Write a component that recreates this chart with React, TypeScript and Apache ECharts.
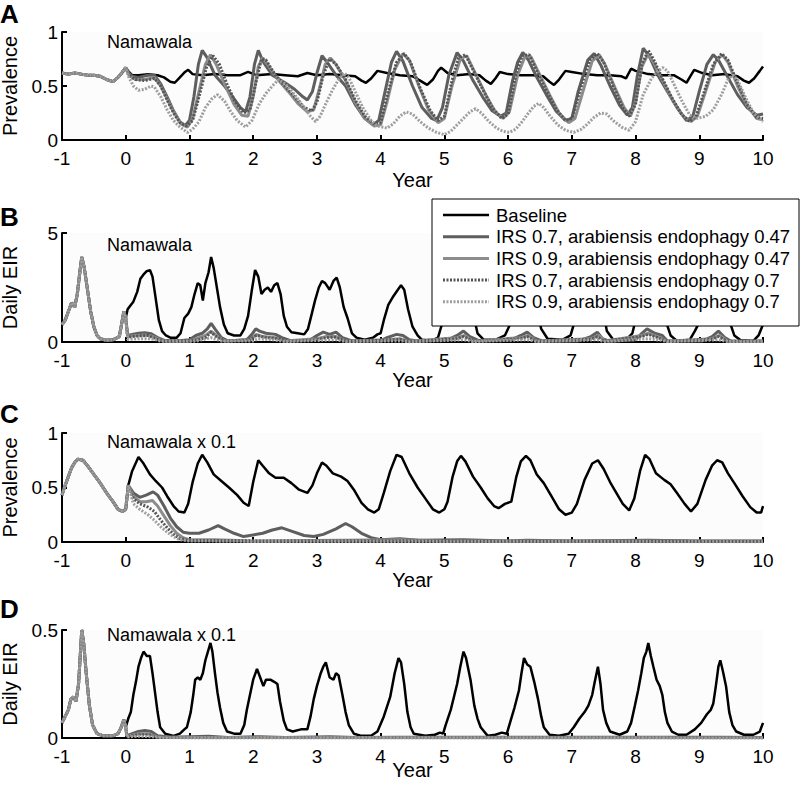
import React, { useEffect, useRef } from "react";
import * as echarts from "echarts";

const FONT = '"Liberation Sans", Arial, Helvetica, sans-serif';

const seriesNames = [
  "Baseline",
  "IRS 0.7, arabiensis endophagy 0.47",
  "IRS 0.9, arabiensis endophagy 0.47",
  "IRS 0.7, arabiensis endophagy 0.7",
  "IRS 0.9, arabiensis endophagy 0.7",
];
const xTicks = [-1, 0, 1, 2, 3, 4, 5, 6, 7, 8, 9, 10];

// ---------- Panel A : prevalence, Namawala ----------
const preA = [[-1,0.62],[-0.9,0.61],[-0.8,0.62],[-0.7,0.61],[-0.6,0.6],[-0.5,0.6],[-0.4,0.59],[-0.3,0.56],[-0.2,0.54],[-0.12,0.58],[-0.05,0.63],[0,0.67]];
const baseA = [[0.05,0.63],[0.1,0.6],[0.2,0.6],[0.35,0.61],[0.5,0.6],[0.6,0.58],[0.7,0.54],[0.77,0.53],[0.85,0.58],[0.93,0.63],[0.98,0.65],[1.05,0.61],[1.2,0.6],[1.4,0.61],[1.6,0.6],[1.8,0.6],[1.92,0.63],[2.05,0.6],[2.3,0.61],[2.5,0.6],[2.7,0.59],[2.85,0.62],[3.0,0.6],[3.2,0.61],[3.4,0.6],[3.6,0.59],[3.7,0.55],[3.77,0.53],[3.85,0.57],[3.95,0.64],[4.1,0.62],[4.3,0.6],[4.5,0.59],[4.62,0.55],[4.73,0.51],[4.82,0.56],[4.9,0.64],[4.95,0.67],[5.05,0.62],[5.2,0.6],[5.4,0.61],[5.55,0.6],[5.65,0.55],[5.73,0.52],[5.8,0.57],[5.87,0.63],[6.0,0.61],[6.2,0.6],[6.4,0.6],[6.55,0.59],[6.65,0.54],[6.72,0.51],[6.8,0.56],[6.9,0.64],[7.0,0.63],[7.2,0.61],[7.4,0.6],[7.6,0.6],[7.78,0.59],[7.85,0.57],[7.93,0.66],[8.0,0.64],[8.2,0.61],[8.4,0.6],[8.6,0.6],[8.72,0.56],[8.8,0.53],[8.87,0.6],[8.92,0.65],[9.05,0.62],[9.2,0.6],[9.4,0.61],[9.6,0.59],[9.7,0.55],[9.78,0.53],[9.86,0.57],[9.95,0.64],[10,0.68]];
const s1A = [[0.05,0.62],[0.1,0.59],[0.2,0.58],[0.35,0.6],[0.45,0.6],[0.55,0.52],[0.65,0.4],[0.75,0.27],[0.85,0.17],[0.93,0.13],[1.0,0.18],[1.07,0.4],[1.14,0.7],[1.2,0.83],[1.28,0.76],[1.4,0.6],[1.55,0.5],[1.7,0.38],[1.8,0.3],[1.88,0.26],[1.95,0.4],[2.02,0.7],[2.08,0.83],[2.16,0.72],[2.3,0.6],[2.5,0.53],[2.65,0.47],[2.78,0.4],[2.85,0.37],[2.93,0.45],[3.0,0.62],[3.08,0.78],[3.16,0.72],[3.3,0.6],[3.45,0.5],[3.6,0.33],[3.75,0.2],[3.88,0.14],[3.97,0.18],[4.07,0.45],[4.17,0.72],[4.25,0.82],[4.35,0.73],[4.5,0.5],[4.65,0.3],[4.8,0.2],[4.88,0.18],[4.97,0.3],[5.07,0.6],[5.2,0.81],[5.3,0.73],[5.45,0.55],[5.6,0.4],[5.75,0.27],[5.88,0.22],[5.97,0.25],[6.07,0.55],[6.15,0.72],[6.23,0.81],[6.32,0.74],[6.45,0.58],[6.6,0.42],[6.75,0.27],[6.9,0.18],[7.0,0.2],[7.1,0.45],[7.25,0.74],[7.35,0.8],[7.45,0.7],[7.6,0.5],[7.75,0.32],[7.87,0.23],[7.95,0.3],[8.03,0.6],[8.12,0.85],[8.22,0.77],[8.35,0.6],[8.5,0.45],[8.65,0.3],[8.8,0.18],[8.9,0.22],[9.0,0.45],[9.12,0.7],[9.22,0.79],[9.3,0.74],[9.45,0.58],[9.6,0.42],[9.75,0.3],[9.9,0.23],[10,0.24]];
const s2A = [[0.05,0.6],[0.15,0.56],[0.3,0.56],[0.45,0.58],[0.55,0.5],[0.65,0.38],[0.75,0.26],[0.87,0.15],[0.97,0.12],[1.05,0.2],[1.15,0.45],[1.25,0.7],[1.33,0.79],[1.42,0.7],[1.55,0.52],[1.7,0.33],[1.82,0.23],[1.92,0.22],[2.0,0.4],[2.08,0.68],[2.15,0.76],[2.25,0.68],[2.4,0.55],[2.55,0.45],[2.7,0.34],[2.85,0.26],[2.95,0.28],[3.05,0.5],[3.13,0.7],[3.21,0.76],[3.3,0.7],[3.45,0.55],[3.6,0.35],[3.75,0.2],[3.9,0.13],[4.0,0.14],[4.1,0.35],[4.22,0.65],[4.35,0.8],[4.45,0.74],[4.6,0.5],[4.75,0.28],[4.9,0.16],[5.0,0.2],[5.12,0.5],[5.25,0.75],[5.35,0.78],[5.5,0.6],[5.65,0.42],[5.8,0.26],[5.92,0.2],[6.02,0.26],[6.15,0.6],[6.27,0.78],[6.36,0.77],[6.5,0.6],[6.65,0.42],[6.8,0.25],[6.95,0.16],[7.05,0.2],[7.2,0.5],[7.32,0.73],[7.43,0.79],[7.52,0.7],[7.68,0.48],[7.82,0.3],[7.92,0.22],[8.0,0.35],[8.1,0.68],[8.2,0.8],[8.3,0.7],[8.45,0.52],[8.6,0.35],[8.75,0.22],[8.87,0.17],[8.97,0.22],[9.1,0.45],[9.25,0.72],[9.36,0.79],[9.45,0.72],[9.6,0.5],[9.75,0.32],[9.9,0.2],[10,0.19]];
const s3A = [[0.05,0.6],[0.15,0.56],[0.3,0.55],[0.45,0.57],[0.55,0.5],[0.65,0.37],[0.75,0.25],[0.85,0.16],[0.95,0.13],[1.05,0.18],[1.15,0.4],[1.27,0.68],[1.37,0.78],[1.47,0.7],[1.6,0.5],[1.72,0.35],[1.85,0.25],[1.95,0.28],[2.05,0.55],[2.13,0.75],[2.2,0.74],[2.35,0.6],[2.5,0.5],[2.65,0.4],[2.8,0.3],[2.92,0.27],[3.0,0.35],[3.1,0.6],[3.2,0.75],[3.3,0.7],[3.45,0.56],[3.6,0.37],[3.75,0.22],[3.9,0.15],[4.0,0.16],[4.12,0.45],[4.25,0.72],[4.37,0.8],[4.47,0.72],[4.62,0.48],[4.78,0.27],[4.9,0.18],[5.0,0.22],[5.12,0.55],[5.22,0.76],[5.33,0.79],[5.45,0.65],[5.6,0.47],[5.75,0.3],[5.9,0.2],[6.0,0.24],[6.12,0.6],[6.22,0.78],[6.33,0.79],[6.45,0.64],[6.6,0.46],[6.75,0.29],[6.9,0.18],[7.0,0.2],[7.15,0.5],[7.28,0.74],[7.4,0.8],[7.5,0.72],[7.65,0.5],[7.8,0.3],[7.9,0.22],[8.0,0.33],[8.1,0.7],[8.2,0.83],[8.28,0.75],[8.42,0.57],[8.58,0.38],[8.72,0.24],[8.85,0.17],[8.95,0.22],[9.08,0.45],[9.22,0.7],[9.35,0.8],[9.45,0.74],[9.6,0.53],[9.75,0.33],[9.9,0.21],[10,0.2]];
const s4A = [[0.05,0.58],[0.12,0.5],[0.2,0.46],[0.3,0.47],[0.4,0.5],[0.45,0.49],[0.55,0.4],[0.65,0.28],[0.75,0.18],[0.85,0.12],[0.97,0.07],[1.05,0.1],[1.15,0.17],[1.25,0.3],[1.35,0.38],[1.44,0.42],[1.55,0.36],[1.65,0.26],[1.75,0.18],[1.88,0.12],[1.98,0.18],[2.1,0.34],[2.2,0.43],[2.3,0.5],[2.4,0.56],[2.5,0.52],[2.65,0.42],[2.8,0.3],[2.9,0.22],[2.98,0.17],[3.05,0.22],[3.15,0.35],[3.25,0.47],[3.35,0.57],[3.43,0.62],[3.5,0.58],[3.6,0.45],[3.72,0.3],[3.85,0.18],[3.95,0.13],[4.1,0.11],[4.2,0.15],[4.3,0.22],[4.4,0.26],[4.5,0.24],[4.62,0.17],[4.75,0.11],[4.88,0.07],[5.0,0.05],[5.1,0.08],[5.2,0.14],[5.3,0.2],[5.4,0.26],[5.49,0.29],[5.58,0.25],[5.7,0.17],[5.82,0.11],[5.92,0.08],[6.02,0.07],[6.12,0.1],[6.22,0.17],[6.32,0.25],[6.4,0.31],[6.48,0.34],[6.56,0.3],[6.66,0.22],[6.78,0.14],[6.9,0.09],[7.03,0.07],[7.15,0.1],[7.25,0.15],[7.35,0.21],[7.45,0.25],[7.55,0.24],[7.65,0.18],[7.78,0.12],[7.9,0.09],[8.0,0.17],[8.12,0.42],[8.25,0.57],[8.35,0.64],[8.43,0.67],[8.5,0.64],[8.6,0.52],[8.72,0.37],[8.85,0.23],[8.97,0.2],[9.1,0.22],[9.22,0.28],[9.35,0.42],[9.45,0.56],[9.52,0.6],[9.6,0.56],[9.72,0.4],[9.85,0.25],[10,0.17]];

// ---------- Panel B : daily EIR, Namawala ----------
const preB = [[-1,0.8],[-0.95,1.0],[-0.9,1.4],[-0.85,1.8],[-0.8,1.6],[-0.76,2.2],[-0.72,3.2],[-0.69,3.9],[-0.65,3.4],[-0.6,2.4],[-0.55,1.4],[-0.5,0.7],[-0.45,0.3],[-0.4,0.15],[-0.3,0.08],[-0.2,0.1],[-0.1,0.25],[-0.06,0.9],[-0.03,1.4],[0,1.1]];
const baseB = [[0.03,1.5],[0.08,1.7],[0.12,1.85],[0.18,2.3],[0.23,2.9],[0.28,3.1],[0.33,3.25],[0.38,3.3],[0.42,3.0],[0.47,2.0],[0.52,1.0],[0.57,0.5],[0.63,0.3],[0.7,0.2],[0.8,0.2],[0.86,0.4],[0.92,1.1],[0.98,1.3],[1.03,1.6],[1.08,2.2],[1.13,2.7],[1.17,2.6],[1.21,1.9],[1.25,2.7],[1.3,3.2],[1.34,3.9],[1.38,3.4],[1.43,2.5],[1.48,1.6],[1.54,0.8],[1.6,0.4],[1.7,0.3],[1.8,0.3],[1.86,0.6],[1.92,1.2],[1.98,2.4],[2.03,3.3],[2.08,3.0],[2.13,2.2],[2.18,2.4],[2.23,2.5],[2.28,2.3],[2.33,2.6],[2.38,2.7],[2.43,2.2],[2.48,1.2],[2.53,0.7],[2.6,0.45],[2.7,0.4],[2.8,0.35],[2.86,0.6],[2.92,1.3],[2.97,1.9],[3.03,2.5],[3.08,2.8],[3.13,2.7],[3.2,2.4],[3.26,2.8],[3.31,2.95],[3.36,2.5],[3.42,1.6],[3.48,1.1],[3.55,0.4],[3.62,0.2],[3.75,0.1],[3.88,0.2],[3.95,0.35],[4.0,0.4],[4.05,1.0],[4.12,1.7],[4.2,2.1],[4.27,2.4],[4.32,2.6],[4.37,2.4],[4.43,1.5],[4.5,0.7],[4.58,0.3],[4.65,0.1],[4.8,0.05],[4.9,0.2],[4.95,0.7],[5.03,1.1],[5.1,1.4],[5.2,2.2],[5.3,3.2],[5.38,2.6],[5.46,1.2],[5.52,0.4],[5.62,0.1],[5.8,0.1],[5.95,0.3],[6.03,0.8],[6.12,1.7],[6.25,3.0],[6.35,2.7],[6.45,1.5],[6.52,0.6],[6.62,0.15],[6.85,0.1],[6.98,0.3],[7.03,0.8],[7.15,1.1],[7.25,1.4],[7.35,1.9],[7.42,2.6],[7.5,1.3],[7.55,0.5],[7.65,0.1],[7.85,0.1],[7.95,0.4],[8.0,1.0],[8.07,1.9],[8.13,2.9],[8.2,3.5],[8.3,2.8],[8.4,2.2],[8.47,1.0],[8.55,0.3],[8.65,0.05],[8.85,0.1],[8.93,0.5],[9.0,0.9],[9.1,1.2],[9.22,1.7],[9.32,2.9],[9.42,1.9],[9.48,0.9],[9.55,0.3],[9.65,0.08],[9.85,0.05],[9.93,0.3],[10,0.8]];
const s1B = [[0.03,0.3],[0.1,0.35],[0.2,0.4],[0.3,0.42],[0.4,0.38],[0.5,0.2],[0.6,0.08],[0.8,0.05],[1.0,0.1],[1.1,0.3],[1.2,0.4],[1.28,0.6],[1.34,0.85],[1.4,0.6],[1.5,0.2],[1.6,0.05],[1.9,0.1],[1.98,0.35],[2.04,0.6],[2.1,0.5],[2.2,0.4],[2.35,0.35],[2.45,0.2],[2.6,0.05],[2.9,0.1],[3.0,0.3],[3.1,0.45],[3.2,0.35],[3.3,0.45],[3.4,0.2],[3.55,0.05],[4.0,0.05],[4.1,0.2],[4.25,0.35],[4.35,0.3],[4.45,0.1],[4.6,0.03],[5.05,0.1],[5.2,0.3],[5.3,0.5],[5.4,0.25],[5.55,0.05],[6.05,0.1],[6.2,0.3],[6.3,0.45],[6.4,0.2],[6.55,0.03],[7.1,0.05],[7.3,0.25],[7.4,0.45],[7.48,0.15],[7.6,0.03],[8.0,0.1],[8.1,0.4],[8.18,0.6],[8.3,0.4],[8.42,0.3],[8.5,0.05],[9.05,0.05],[9.2,0.25],[9.3,0.5],[9.4,0.2],[9.5,0.03],[10,0.05]];
const s2B = [[0.03,0.25],[0.15,0.3],[0.3,0.32],[0.4,0.28],[0.5,0.15],[0.6,0.05],[1.0,0.05],[1.15,0.2],[1.25,0.3],[1.34,0.5],[1.42,0.3],[1.55,0.05],[1.95,0.1],[2.05,0.35],[2.15,0.25],[2.35,0.2],[2.5,0.05],[3.0,0.15],[3.15,0.25],[3.3,0.25],[3.45,0.05],[4.1,0.1],[4.3,0.15],[4.45,0.03],[5.2,0.2],[5.32,0.3],[5.45,0.05],[6.2,0.2],[6.32,0.3],[6.45,0.05],[7.3,0.15],[7.42,0.3],[7.52,0.05],[8.1,0.3],[8.2,0.4],[8.35,0.25],[8.5,0.03],[9.2,0.15],[9.32,0.3],[9.45,0.03],[10,0.03]];
const s3B = [[0.03,0.22],[0.2,0.28],[0.35,0.3],[0.5,0.12],[0.6,0.04],[1.1,0.08],[1.25,0.2],[1.34,0.45],[1.42,0.25],[1.55,0.04],[1.95,0.1],[2.05,0.3],[2.2,0.2],[2.4,0.15],[2.55,0.03],[3.0,0.1],[3.15,0.2],[3.3,0.22],[3.45,0.04],[4.1,0.08],[4.3,0.12],[4.45,0.02],[5.2,0.15],[5.3,0.25],[5.45,0.04],[6.2,0.15],[6.3,0.25],[6.45,0.04],[7.3,0.12],[7.4,0.25],[7.5,0.04],[8.1,0.25],[8.2,0.35],[8.35,0.2],[8.5,0.03],[9.2,0.12],[9.3,0.25],[9.45,0.03],[10,0.03]];
const s4B = [[0.03,0.12],[0.2,0.15],[0.4,0.15],[0.55,0.04],[1.1,0.04],[1.34,0.2],[1.5,0.04],[2.0,0.05],[2.08,0.15],[2.3,0.1],[2.5,0.02],[3.1,0.08],[3.3,0.1],[3.45,0.02],[4.3,0.05],[4.45,0.01],[5.3,0.1],[5.45,0.02],[6.3,0.1],[6.45,0.02],[7.4,0.1],[7.5,0.02],[8.2,0.15],[8.4,0.08],[8.5,0.02],[9.3,0.1],[9.45,0.02],[10,0.02]];

// ---------- Panel C : prevalence, Namawala x 0.1 ----------
const preC = [[-1,0.43],[-0.95,0.52],[-0.9,0.6],[-0.85,0.68],[-0.8,0.73],[-0.75,0.76],[-0.67,0.75],[-0.6,0.7],[-0.5,0.62],[-0.4,0.54],[-0.3,0.45],[-0.2,0.37],[-0.12,0.3],[-0.05,0.28],[0,0.3],[0.04,0.52]];
const baseC = [[0.1,0.65],[0.2,0.78],[0.28,0.72],[0.38,0.62],[0.47,0.56],[0.57,0.5],[0.65,0.42],[0.75,0.33],[0.83,0.28],[0.92,0.27],[0.98,0.35],[1.05,0.55],[1.13,0.72],[1.2,0.8],[1.28,0.73],[1.38,0.62],[1.5,0.56],[1.62,0.5],[1.75,0.43],[1.85,0.36],[1.93,0.33],[2.0,0.55],[2.08,0.75],[2.15,0.7],[2.25,0.63],[2.35,0.59],[2.48,0.59],[2.6,0.54],[2.72,0.48],[2.85,0.45],[2.93,0.52],[3.0,0.63],[3.08,0.73],[3.15,0.7],[3.25,0.63],[3.38,0.6],[3.48,0.56],[3.58,0.48],[3.7,0.36],[3.8,0.3],[3.9,0.27],[3.97,0.3],[4.05,0.45],[4.15,0.65],[4.25,0.8],[4.33,0.78],[4.45,0.63],[4.58,0.5],[4.7,0.4],[4.82,0.3],[4.92,0.27],[5.0,0.3],[5.05,0.37],[5.13,0.6],[5.2,0.74],[5.26,0.79],[5.33,0.74],[5.45,0.6],[5.57,0.5],[5.68,0.4],[5.78,0.33],[5.85,0.31],[5.95,0.35],[6.05,0.37],[6.13,0.6],[6.2,0.74],[6.28,0.79],[6.35,0.75],[6.45,0.62],[6.56,0.54],[6.68,0.42],[6.8,0.3],[6.9,0.25],[7.0,0.27],[7.08,0.35],[7.2,0.57],[7.32,0.72],[7.41,0.75],[7.5,0.67],[7.6,0.55],[7.68,0.47],[7.8,0.35],[7.9,0.29],[7.98,0.4],[8.07,0.65],[8.15,0.8],[8.22,0.76],[8.32,0.63],[8.45,0.57],[8.55,0.53],[8.65,0.45],[8.77,0.35],[8.87,0.28],[8.97,0.35],[9.1,0.57],[9.2,0.7],[9.28,0.75],[9.36,0.73],[9.45,0.63],[9.55,0.54],[9.68,0.42],[9.8,0.32],[9.9,0.27],[9.97,0.27],[10,0.33]];
const s1C = [[0.12,0.45],[0.22,0.41],[0.32,0.43],[0.43,0.46],[0.5,0.43],[0.6,0.33],[0.7,0.22],[0.8,0.14],[0.9,0.09],[1.0,0.08],[1.15,0.08],[1.3,0.11],[1.45,0.15],[1.55,0.12],[1.7,0.08],[1.85,0.05],[1.95,0.06],[2.15,0.08],[2.3,0.11],[2.45,0.13],[2.6,0.1],[2.8,0.06],[2.95,0.05],[3.1,0.07],[3.3,0.12],[3.45,0.17],[3.55,0.14],[3.7,0.08],[3.85,0.04],[4.0,0.02],[4.3,0.03],[4.6,0.015],[5.3,0.02],[6,0.01],[6.3,0.015],[7,0.01],[8.2,0.015],[9,0.01],[10,0.01]];
const s2C = [[0.12,0.42],[0.22,0.37],[0.32,0.37],[0.42,0.38],[0.5,0.33],[0.6,0.24],[0.7,0.15],[0.8,0.08],[0.9,0.04],[1.0,0.02],[1.4,0.02],[2.0,0.01],[4.3,0.02],[5,0.01],[10,0.01]];
const s3C = [[0.12,0.4],[0.22,0.35],[0.35,0.32],[0.45,0.28],[0.55,0.2],[0.65,0.13],[0.75,0.07],[0.85,0.03],[1.0,0.015],[2,0.01],[10,0.005]];
const s4C = [[0.12,0.35],[0.22,0.3],[0.35,0.25],[0.45,0.2],[0.55,0.14],[0.65,0.09],[0.75,0.05],[0.85,0.02],[1.0,0.01],[2,0.005],[10,0.003]];

// ---------- Panel D : daily EIR, Namawala x 0.1 ----------
const preD = [[-1,0.07],[-0.95,0.1],[-0.9,0.13],[-0.86,0.18],[-0.82,0.19],[-0.78,0.17],[-0.74,0.25],[-0.71,0.4],[-0.69,0.5],[-0.66,0.44],[-0.62,0.3],[-0.57,0.15],[-0.52,0.06],[-0.45,0.02],[-0.35,0.01],[-0.2,0.01],[-0.12,0.02],[-0.07,0.05],[-0.03,0.085],[0,0.05]];
const baseD = [[0.04,0.09],[0.08,0.12],[0.12,0.2],[0.16,0.26],[0.2,0.33],[0.24,0.37],[0.28,0.4],[0.33,0.38],[0.38,0.38],[0.42,0.3],[0.46,0.21],[0.5,0.12],[0.54,0.05],[0.62,0.02],[0.75,0.01],[0.85,0.02],[0.92,0.04],[0.96,0.05],[1.02,0.12],[1.06,0.2],[1.09,0.27],[1.13,0.28],[1.17,0.27],[1.21,0.3],[1.25,0.36],[1.29,0.4],[1.33,0.44],[1.36,0.4],[1.4,0.3],[1.44,0.21],[1.48,0.14],[1.53,0.07],[1.59,0.03],[1.7,0.02],[1.8,0.02],[1.86,0.06],[1.9,0.13],[1.95,0.2],[2.0,0.27],[2.06,0.32],[2.11,0.28],[2.16,0.24],[2.2,0.27],[2.27,0.27],[2.33,0.26],[2.38,0.25],[2.42,0.17],[2.48,0.08],[2.53,0.04],[2.62,0.03],[2.75,0.04],[2.85,0.04],[2.9,0.1],[2.95,0.18],[3.0,0.24],[3.06,0.3],[3.1,0.33],[3.14,0.35],[3.2,0.28],[3.26,0.27],[3.3,0.3],[3.34,0.29],[3.4,0.2],[3.45,0.12],[3.5,0.06],[3.58,0.02],[3.7,0.01],[3.85,0.01],[3.95,0.03],[4.05,0.1],[4.15,0.19],[4.22,0.3],[4.28,0.37],[4.32,0.35],[4.37,0.25],[4.42,0.12],[4.47,0.05],[4.52,0.02],[4.7,0.01],[4.85,0.015],[4.93,0.025],[4.98,0.02],[5.02,0.06],[5.1,0.13],[5.15,0.19],[5.2,0.25],[5.25,0.33],[5.3,0.4],[5.34,0.37],[5.41,0.27],[5.47,0.15],[5.52,0.09],[5.57,0.05],[5.68,0.01],[5.8,0.015],[5.9,0.025],[5.98,0.02],[6.04,0.08],[6.1,0.14],[6.17,0.22],[6.21,0.3],[6.25,0.37],[6.3,0.34],[6.35,0.33],[6.41,0.26],[6.47,0.18],[6.52,0.1],[6.56,0.05],[6.65,0.015],[6.8,0.01],[6.95,0.02],[7.03,0.05],[7.12,0.09],[7.2,0.12],[7.26,0.15],[7.32,0.2],[7.36,0.26],[7.41,0.33],[7.45,0.25],[7.49,0.13],[7.54,0.07],[7.6,0.03],[7.75,0.015],[7.87,0.03],[7.93,0.07],[7.99,0.15],[8.04,0.22],[8.09,0.3],[8.13,0.37],[8.17,0.4],[8.2,0.44],[8.24,0.38],[8.28,0.33],[8.33,0.27],[8.38,0.24],[8.42,0.2],[8.46,0.12],[8.5,0.07],[8.57,0.03],[8.67,0.015],[8.8,0.015],[8.93,0.04],[9.03,0.07],[9.12,0.11],[9.18,0.13],[9.22,0.16],[9.26,0.24],[9.3,0.33],[9.33,0.36],[9.37,0.31],[9.42,0.24],[9.47,0.12],[9.52,0.06],[9.58,0.03],[9.7,0.015],[9.85,0.015],[9.95,0.03],[10,0.07]];
const s1D = [[0.02,0.01],[0.1,0.02],[0.2,0.03],[0.3,0.035],[0.4,0.03],[0.5,0.01],[0.7,0.003],[1.3,0.008],[1.6,0.002],[2.1,0.006],[2.5,0.002],[3.2,0.006],[3.6,0.002],[4.3,0.003],[5.3,0.004],[6.3,0.003],[7.4,0.003],[8.2,0.004],[9.3,0.003],[10,0.002]];
const s2D = [[0.02,0.008],[0.2,0.02],[0.35,0.02],[0.5,0.005],[1,0.002],[10,0.001]];
const s3D = [[0.02,0.008],[0.2,0.015],[0.35,0.015],[0.5,0.004],[1,0.001],[10,0.001]];
const s4D = [[0.02,0.005],[0.2,0.008],[0.4,0.006],[0.6,0.001],[10,0.0005]];

const styles = [
  { color: "#000000", width: 2.5, dash: null as number[] | null },
  { color: "#5e5e5e", width: 3, dash: null as number[] | null },
  { color: "#8c8c8c", width: 3, dash: null as number[] | null },
  { color: "#555555", width: 3, dash: [2, 1.5] },
  { color: "#9e9e9e", width: 3, dash: [2, 1.5] },
];

const panels = [
  { top: 32, height: 108, max: 1, interval: 0.5, yName: "Prevalence", letter: "A", letterY: 14, label: "Namawala", labelY: 42, xNameGap: 31, pre: preA, post: [baseA, s1A, s2A, s3A, s4A] },
  { top: 233, height: 109, max: 5, interval: 5, yName: "Daily EIR", letter: "B", letterY: 217, label: "Namawala", labelY: 245, xNameGap: 29, pre: preB, post: [baseB, s1B, s2B, s3B, s4B] },
  { top: 433, height: 109, max: 1, interval: 0.5, yName: "Prevalence", letter: "C", letterY: 414, label: "Namawala x 0.1", labelY: 442, xNameGap: 29, pre: preC, post: [baseC, s1C, s2C, s3C, s4C] },
  { top: 630, height: 108, max: 0.5, interval: 0.5, yName: "Daily EIR", letter: "D", letterY: 609, label: "Namawala x 0.1", labelY: 635, xNameGap: 23, pre: preD, post: [baseD, s1D, s2D, s3D, s4D] },
];

// legend box layout (pixels)
const LEG = { x: 432, y: 199, w: 367, h: 127, row0: 215, rowGap: 21.7, lineX0: 443, lineX1: 489, textX: 496 };

export default function App() {
  const ref = useRef<HTMLDivElement>(null);
  useEffect(() => {
    if (!ref.current) return;
    document.body.style.margin = "0";
    const chart = echarts.init(ref.current, null, { renderer: "svg" });

    const tickStyle = { show: true, inside: true, length: 5, lineStyle: { color: "#000", width: 2 } };

    const grid: any[] = [];
    const xAxis: any[] = [];
    const yAxis: any[] = [];
    const series: any[] = [];
    const graphic: any[] = [];

    panels.forEach((p, i) => {
      grid.push({
        left: 62, width: 701, top: p.top, height: p.height,
        containLabel: false, outerBoundsMode: "none",
        show: true, backgroundColor: "#fcfcfc", borderWidth: 0,
      });
      xAxis.push({
        gridIndex: i,
        type: "value",
        min: xTicks[0],
        max: xTicks[xTicks.length - 1],
        interval: 1,
        axisLine: { show: true, onZero: false, lineStyle: { color: "#000", width: 2 } },
        axisTick: tickStyle,
        splitLine: { show: false },
        name: "Year",
        nameLocation: "middle",
        nameGap: p.xNameGap,
        nameMoveOverlap: false,
        nameTextStyle: { color: "#000", fontSize: 20, lineHeight: 18, fontFamily: FONT },
        axisLabel: { color: "#000", fontSize: 19, lineHeight: 17, fontFamily: FONT, margin: 10 },
      });
      yAxis.push({
        gridIndex: i,
        type: "value",
        min: 0,
        max: p.max,
        interval: p.interval,
        axisLine: { show: true, onZero: false, lineStyle: { color: "#000", width: 2 } },
        axisTick: tickStyle,
        splitLine: { show: false },
        name: p.yName,
        nameLocation: "middle",
        nameGap: 42,
        nameMoveOverlap: false,
        nameTextStyle: { color: "#000", fontSize: 20, fontFamily: FONT },
        axisLabel: { color: "#000", fontSize: 19, lineHeight: 17, fontFamily: FONT, margin: 4, formatter: (v: number) => String(v) },
      });
      p.post.forEach((post, k) => {
        const st = styles[k];
        series.push({
          type: "line",
          name: seriesNames[k],
          xAxisIndex: i,
          yAxisIndex: i,
          data: p.pre.concat(post),
          showSymbol: false,
          symbol: "none",
          lineStyle: { color: st.color, width: st.width, type: st.dash ? st.dash : "solid" },
          z: 2 + k * 0.01,
          silent: true,
        });
      });
      graphic.push({
        type: "text",
        x: 0,
        y: p.letterY,
        style: { text: p.letter, fontSize: 26, fontWeight: "bold", fontFamily: FONT, fill: "#000", verticalAlign: "middle" },
      });
      graphic.push({
        type: "text",
        x: 107,
        y: p.labelY,
        style: { text: p.label, fontSize: 18, fontFamily: FONT, fill: "#000", verticalAlign: "middle" },
      });
    });

    // legend (drawn as graphic elements, on top of panel B)
    graphic.push({
      type: "rect",
      z: 100,
      shape: { x: LEG.x, y: LEG.y, width: LEG.w, height: LEG.h },
      style: { fill: "#ffffff", stroke: "#000000", lineWidth: 1 },
    });
    seriesNames.forEach((name, k) => {
      const st = styles[k];
      const yy = LEG.row0 + k * LEG.rowGap;
      graphic.push({
        type: "line",
        z: 101,
        shape: { x1: LEG.lineX0, y1: yy, x2: LEG.lineX1, y2: yy },
        style: { stroke: st.color, lineWidth: st.width, lineDash: st.dash || undefined },
      });
      graphic.push({
        type: "text",
        z: 101,
        x: LEG.textX,
        y: yy,
        style: { text: name, fontSize: 18.5, fontFamily: FONT, fill: "#000", verticalAlign: "middle" },
      });
    });

    chart.setOption({
      animation: false,
      backgroundColor: "#ffffff",
      grid,
      xAxis,
      yAxis,
      series,
      graphic,
    });
    return () => chart.dispose();
  }, []);
  return <div ref={ref} style={{ position: "absolute", left: 0, top: 0, width: 800, height: 785 }} />;
}
